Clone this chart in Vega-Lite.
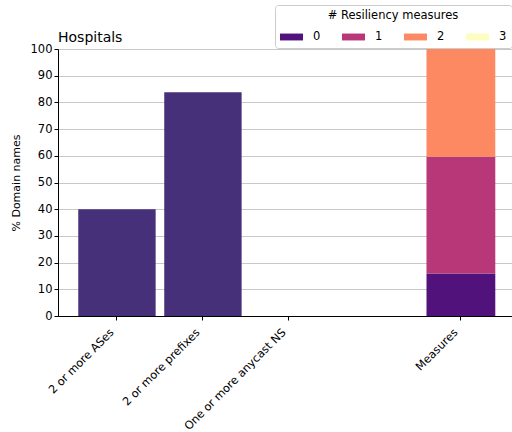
{
  "$schema": "https://vega.github.io/schema/vega-lite/v6.json",
  "width": 454,
  "height": 267,
  "autosize": "none",
  "padding": {"left": 58, "top": 49, "right": 0, "bottom": 116},
  "title": {"text": "Hospitals", "anchor": "start", "frame": "group", "fontSize": 14, "fontWeight": "normal", "font": "DejaVu Sans", "color": "#000000", "offset": 5, "dy": 45},
  "datasets": {
    "single": [
      {"metric": "2 or more ASes", "pct": 40.0},
      {"metric": "2 or more prefixes", "pct": 83.8},
      {"metric": "One or more anycast NS", "pct": 0}
    ],
    "stack": [
      {"metric": "Measures", "level": "0", "pct": 15.9},
      {"metric": "Measures", "level": "1", "pct": 43.7},
      {"metric": "Measures", "level": "2", "pct": 40.4},
      {"metric": "Measures", "level": "3", "pct": 0}
    ]
  },
  "encoding": {
    "x": {
      "field": "metric", "type": "nominal",
      "scale": {"domain": ["2 or more ASes", "2 or more prefixes", "One or more anycast NS", " ", "Measures"], "paddingInner": 0.1, "paddingOuter": 0.19, "align": 0.62},
      "axis": {"values": ["2 or more ASes", "2 or more prefixes", "One or more anycast NS", "Measures"], "labelAngle": -45, "labelAlign": "right", "labelBaseline": "bottom", "title": null, "labelPadding": 14, "labelOffset": -1, "labelFontSize": 11.3, "tickSize": 4}
    },
    "y": {
      "field": "pct", "type": "quantitative", "stack": true,
      "scale": {"domain": [0, 100], "nice": false},
      "axis": {"values": [0, 10, 20, 30, 40, 50, 60, 70, 80, 90, 100], "title": "% Domain names", "grid": true, "tickSize": 4, "titlePadding": 9}
    }
  },
  "layer": [
    {
      "data": {"name": "single"},
      "mark": {"type": "bar", "color": "#47307a"}
    },
    {
      "data": {"name": "stack"},
      "mark": {"type": "bar", "width": {"band": 0.889}},
      "encoding": {
        "color": {
          "field": "level", "type": "nominal",
          "scale": {"domain": ["0", "1", "2", "3"], "range": ["#51127c", "#b73779", "#fc8961", "#fcfdbf"]},
          "legend": {
            "title": "# Resiliency measures", "orient": "none", "legendX": 217, "legendY": -44,
            "direction": "horizontal", "columns": 4, "titleAnchor": "middle", "titleFontSize": 11.5, "titleFontWeight": "normal",
            "labelFontSize": 11.5, "symbolType": "M-1,-0.3H1V0.3H-1Z", "symbolSize": 529, "symbolStrokeWidth": 0, "symbolOpacity": 1,
            "labelOffset": 10, "columnPadding": 21, "padding": 5, "strokeColor": "#cccccc", "fillColor": "#ffffff", "cornerRadius": 3, "titlePadding": 4
          }
        },
        "order": {"field": "level"}
      }
    },
    {
      "mark": {"type": "rule", "color": "#000000", "strokeWidth": 1},
      "encoding": {"y": {"datum": 100}}
    }
  ],
  "config": {
    "font": "DejaVu Sans",
    "view": {"stroke": null},
    "axis": {"labelFont": "DejaVu Sans", "titleFont": "DejaVu Sans", "labelFontSize": 11.5, "titleFontSize": 11, "titleFontWeight": "normal", "labelColor": "#000000", "titleColor": "#000000", "domainColor": "#000000", "tickColor": "#000000", "gridColor": "#c8c8c8", "gridWidth": 1},
    "legend": {"labelFont": "DejaVu Sans", "titleFont": "DejaVu Sans", "labelColor": "#000000", "titleColor": "#000000"}
  }
}
